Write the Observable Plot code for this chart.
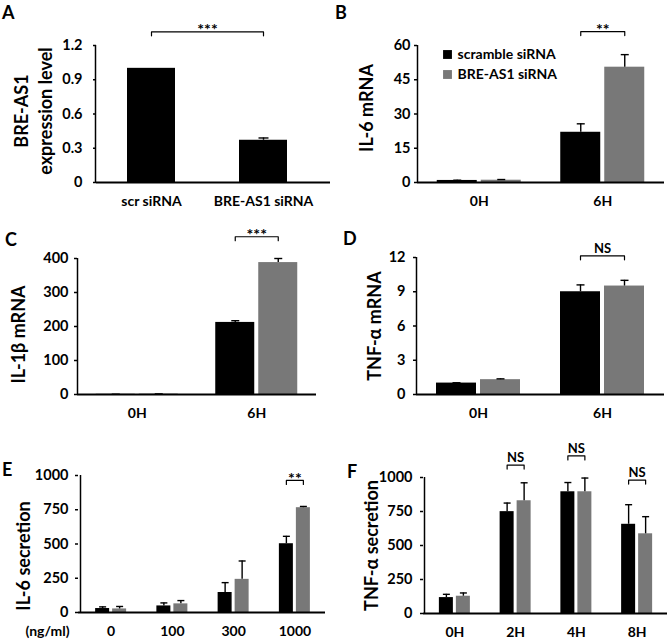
<!DOCTYPE html>
<html><head><meta charset="utf-8">
<script src="https://cdn.jsdelivr.net/npm/d3@7"></script>
<script src="https://cdn.jsdelivr.net/npm/@observablehq/plot@0.6"></script>
<style>
body{margin:0;background:#fff}
#fig{position:relative;width:669px;height:639px;background:#fff;font-family:Lato,"Open Sans",sans-serif}
.p{position:absolute}
.lt{position:absolute;font-weight:bold;font-size:18px;line-height:18px;font-family:Lato,"Open Sans",sans-serif;color:#000}
</style></head><body><div id="fig"></div>
<script>
// ---------- data ----------
const seriesNames = ["scramble siRNA", "BRE-AS1 siRNA"];
const seriesColors = ["#000000", "#787878"];

// A
const aGroups = ["scr siRNA", "BRE-AS1 siRNA"];
const aValues = [1.0, 0.37];
const aErrors = [0, 0.02];
const aTicks = [0, 0.3, 0.6, 0.9, 1.2];

// B
const bGroups = ["0H", "6H"];
const bScramble = [0.9, 22];
const bScrambleErr = [0.1, 3.7];
const bBre = [1.0, 50.5];
const bBreErr = [0.3, 5.5];
const bTicks = [0, 15, 30, 45, 60];

// C
const cGroups = ["0H", "6H"];
const cScramble = [0.5, 212];
const cScrambleErr = [0.3, 5];
const cBre = [1.2, 388];
const cBreErr = [0.6, 12];
const cTicks = [0, 100, 200, 300, 400];

// D
const dGroups = ["0H", "6H"];
const dScramble = [1.0, 9.0];
const dScrambleErr = [0.03, 0.6];
const dBre = [1.3, 9.5];
const dBreErr = [0.07, 0.5];
const dTicks = [0, 3, 6, 9, 12];

// E
const eGroups = ["0", "100", "300", "1000"];
const eScramble = [29, 48, 146, 502];
const eScrambleErr = [12, 22, 72, 54];
const eBre = [26, 63, 242, 765];
const eBreErr = [18, 24, 134, 9];
const eTicks = [0, 250, 500, 750, 1000];

// F
const fGroups = ["0H", "2H", "4H", "8H"];
const fScramble = [117, 749, 895, 656];
const fScrambleErr = [24, 63, 68, 144];
const fBre = [127, 829, 895, 586];
const fBreErr = [24, 132, 101, 126];
const fTicks = [0, 250, 500, 750, 1000];

// significance labels and bracket levels (data units)
const aSig = [{from: [0, 0], to: [1, 0], level: 1.32, label: "***"}];
const bSig = [{from: [1, 0], to: [1, 1], level: 66.1, label: "**"}];
const cSig = [{from: [1, 0], to: [1, 1], level: 464, label: "***"}];
const dSig = [{from: [1, 0], to: [1, 1], level: 12.15, label: "NS"}];
const eSig = [{from: [3, 0], to: [3, 1], level: 964, label: "**"}];
const fSig = [
  {from: [1, 0], to: [1, 1], level: 1091, label: "NS"},
  {from: [2, 0], to: [2, 1], level: 1159, label: "NS"},
  {from: [3, 0], to: [3, 1], level: 981, label: "NS"}
];

// ---------- drawing ----------
const FONT = "Lato, 'Open Sans', sans-serif";
const fig = document.getElementById("fig");

function drawPanel(cfg) {
  const n = cfg.groups.length;
  const k = cfg.values.length;
  const [r0, r1] = cfg.xRange;
  const step = (r1 - r0) / n;
  const bw = cfg.barPx / step, gap = cfg.gapPx / step, capHalf = cfg.capPx / step / 2;
  const framePx = cfg.height - cfg.marginTop - cfg.marginBottom;
  const unitPerPx = (cfg.yDomain[1] - cfg.yDomain[0]) / framePx;
  const center = (g, s) => g + 0.5 + (k === 1 ? 0 : (s - (k - 1) / 2) * (bw + gap));
  const rows = [];
  cfg.groups.forEach((g, i) => cfg.values.forEach((vals, j) => {
    rows.push({group: g, series: cfg.series[j], value: vals[i], err: cfg.errors[j][i], cx: center(i, j)});
  }));
  const errRows = rows.filter(d => d.err > 0);
  const brackets = cfg.sig.map((b, id) => ({id, label: b.label, level: b.level,
    xa: center(...b.from), xb: center(...b.to)}));
  const drop = 4 * unitPerPx;
  const bracketPts = brackets.flatMap(b => [
    {id: b.id, x: b.xa, y: b.level - drop},
    {id: b.id, x: b.xa, y: b.level},
    {id: b.id, x: b.xb, y: b.level},
    {id: b.id, x: b.xb, y: b.level - drop}
  ]);
  const marks = [
    Plot.rect(rows, {x1: d => d.cx - bw / 2, x2: d => d.cx + bw / 2, y1: 0, y2: "value", fill: "series"}),
    Plot.ruleX(errRows, {x: "cx", y1: "value", y2: d => d.value + d.err, stroke: "#000", strokeWidth: 1.4}),
    Plot.link(errRows, {x1: d => d.cx - capHalf, x2: d => d.cx + capHalf,
      y1: d => d.value + d.err, y2: d => d.value + d.err, stroke: "#000", strokeWidth: 1.4}),
    Plot.ruleX([0], {stroke: "#000", strokeWidth: 1.5}),
    Plot.ruleY([0], {stroke: "#000", strokeWidth: 2}),
    Plot.axisY(cfg.yTicks, {tickSize: 3, tickPadding: cfg.yPad, tickFormat: cfg.yFormat,
      fontSize: 14.5, label: null, strokeWidth: 1.5}),
    Plot.axisX(d3.range(n).map(i => i + 0.5), {tickSize: 0, tickPadding: 14,
      tickFormat: d => cfg.groups[Math.floor(d)], fontSize: 14, label: null}),
    Plot.line(bracketPts, {x: "x", y: "y", z: "id", stroke: "#000", strokeWidth: 1.2}),
    Plot.text(brackets, {x: d => (d.xa + d.xb) / 2, y: "level", text: "label",
      dy: cfg.sigDy, fontSize: cfg.sigSize}),
    Plot.text([cfg.yLabel], {frameAnchor: "left", rotate: -90, dx: cfg.labelDx, dy: cfg.labelDy,
      fontSize: 18, lineHeight: 1.35, textAnchor: "middle", lineAnchor: "middle"})
  ];
  if (cfg.legend) {
    cfg.series.forEach((s, i) => {
      marks.push(Plot.dot([s], {frameAnchor: "top-left", dx: 30, dy: 9 + i * 20, symbol: "square",
        r: 5, fill: cfg.colors[i], stroke: "none"}));
      marks.push(Plot.text([s], {frameAnchor: "top-left", dx: 40, dy: 9 + i * 20,
        textAnchor: "start", lineAnchor: "middle", fontSize: 14}));
    });
  }
  if (cfg.xUnit) {
    marks.push(Plot.text([cfg.xUnit], {frameAnchor: "bottom-left", dx: cfg.xUnitDx, dy: 14,
      lineAnchor: "top", textAnchor: "middle", fontSize: 14}));
  }
  const svg = Plot.plot({
    width: cfg.width, height: cfg.height,
    marginLeft: cfg.marginLeft, marginRight: cfg.marginRight,
    marginTop: cfg.marginTop, marginBottom: cfg.marginBottom,
    x: {type: "linear", domain: [0, n], range: cfg.xRange},
    y: {domain: cfg.yDomain},
    color: {domain: cfg.series, range: cfg.colors},
    style: {fontFamily: FONT, fontWeight: "bold", fontSize: "14px", color: "#000", background: "transparent", overflow: "visible"},
    marks
  });
  const wrap = document.createElement("div");
  wrap.className = "p";
  wrap.style.left = cfg.left + "px";
  wrap.style.top = cfg.top + "px";
  wrap.appendChild(svg);
  fig.appendChild(wrap);
  const lt = document.createElement("div");
  lt.className = "lt";
  lt.textContent = cfg.letter;
  lt.style.left = cfg.letterPos[0] + "px";
  lt.style.top = cfg.letterPos[1] + "px";
  fig.appendChild(lt);
}

const intFmt = d => String(d);

drawPanel({
  letter: "A", letterPos: [2, 3],
  groups: aGroups, series: ["level"], colors: ["#000000"],
  values: [aValues], errors: [aErrors],
  yDomain: [0, 1.2], yTicks: aTicks, yFormat: d => d === 0 ? "0" : d.toFixed(1),
  yLabel: "BRE-AS1\nexpression level", labelDx: -64, labelDy: -3,
  sig: aSig, sigDy: -2, sigSize: 16,
  left: 0, top: 0, width: 335, height: 210,
  marginLeft: 96, marginRight: 5, marginTop: 45, marginBottom: 28,
  xRange: [95, 319], barPx: 48, gapPx: 0, capPx: 10, yPad: 11
});

drawPanel({
  letter: "B", letterPos: [335, 3],
  groups: bGroups, series: seriesNames, colors: seriesColors,
  values: [bScramble, bBre], errors: [bScrambleErr, bBreErr],
  yDomain: [0, 60], yTicks: bTicks, yFormat: intFmt,
  yLabel: "IL-6 mRNA", labelDx: -52, labelDy: -6,
  sig: bSig, sigDy: -2, sigSize: 16, legend: true,
  left: 335, top: 0, width: 334, height: 210,
  marginLeft: 82, marginRight: 5, marginTop: 45, marginBottom: 28,
  xRange: [82, 329], barPx: 40, gapPx: 4, capPx: 8, yPad: 4
});

drawPanel({
  letter: "C", letterPos: [5, 230],
  groups: cGroups, series: seriesNames, colors: seriesColors,
  values: [cScramble, cBre], errors: [cScrambleErr, cBreErr],
  yDomain: [0, 400], yTicks: cTicks, yFormat: intFmt,
  yLabel: "IL-1β mRNA", labelDx: -60, labelDy: 8,
  sig: cSig, sigDy: -2, sigSize: 16,
  left: 0, top: 210, width: 335, height: 210,
  marginLeft: 77, marginRight: 19, marginTop: 48, marginBottom: 26,
  xRange: [77, 316], barPx: 39, gapPx: 4, capPx: 8, yPad: 6
});

drawPanel({
  letter: "D", letterPos: [343, 229],
  groups: dGroups, series: seriesNames, colors: seriesColors,
  values: [dScramble, dBre], errors: [dScrambleErr, dBreErr],
  yDomain: [0, 12], yTicks: dTicks, yFormat: intFmt,
  yLabel: "TNF-α mRNA", labelDx: -43, labelDy: 0,
  sig: dSig, sigDy: -7, sigSize: 13,
  left: 335, top: 210, width: 334, height: 210,
  marginLeft: 81, marginRight: 5, marginTop: 47, marginBottom: 26,
  xRange: [81, 329], barPx: 40, gapPx: 4, capPx: 8, yPad: 8
});

drawPanel({
  letter: "E", letterPos: [2, 460],
  groups: eGroups, series: seriesNames, colors: seriesColors,
  values: [eScramble, eBre], errors: [eScrambleErr, eBreErr],
  yDomain: [0, 1000], yTicks: eTicks, yFormat: intFmt,
  yLabel: "IL-6 secretion", labelDx: -56, labelDy: 12,
  sig: eSig, sigDy: -2, sigSize: 16,
  xUnit: "(ng/ml)", xUnitDx: -31,
  left: 0, top: 420, width: 335, height: 219,
  marginLeft: 78, marginRight: 10, marginTop: 55, marginBottom: 27,
  xRange: [80, 325], barPx: 14, gapPx: 3, capPx: 7, yPad: 7
});

drawPanel({
  letter: "F", letterPos: [347, 462],
  groups: fGroups, series: seriesNames, colors: seriesColors,
  values: [fScramble, fBre], errors: [fScrambleErr, fBreErr],
  yDomain: [0, 1000], yTicks: fTicks, yFormat: intFmt,
  yLabel: "TNF-α secretion", labelDx: -53, labelDy: 0,
  sig: fSig, sigDy: -7, sigSize: 13,
  left: 335, top: 420, width: 334, height: 219,
  marginLeft: 88, marginRight: 2, marginTop: 57, marginBottom: 26,
  xRange: [89, 332], barPx: 14, gapPx: 3, capPx: 7, yPad: 8
});
</script></body></html>
